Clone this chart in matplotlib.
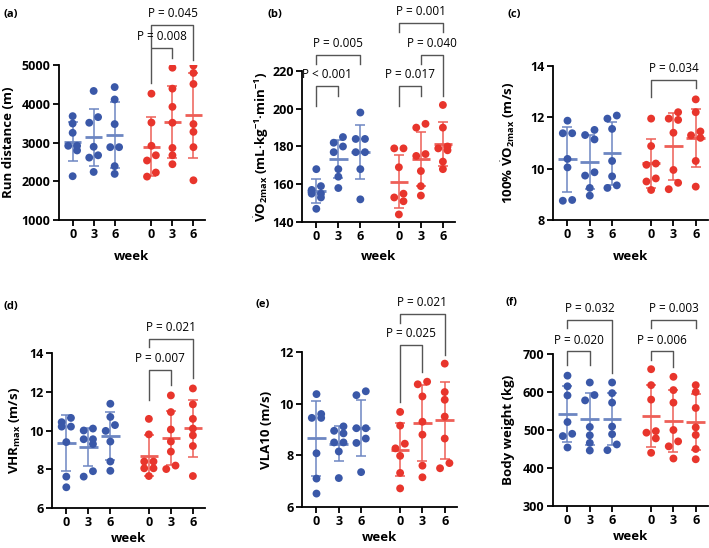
import numpy as np
import matplotlib.pyplot as plt

plt.rcParams['font.family'] = ['Open Sans', 'DejaVu Sans']
plt.rcParams['mathtext.fontset'] = 'custom'
plt.rcParams['mathtext.rm'] = 'Open Sans'
plt.rcParams['mathtext.bf'] = 'Open Sans:bold'
plt.rcParams['mathtext.it'] = 'Open Sans:italic'

week_labels = ['0', '3', '6', '0', '3', '6']

# values per group: control weeks 0/3/6 (blue), training weeks 0/3/6 (red)
run_distance = [
    [3680, 3490, 3250, 2915, 2915, 2795, 2130],
    [4330, 3655, 3510, 2890, 2670, 2610, 2240],
    [4430, 4110, 3475, 2880, 2880, 2390, 2190],
    [4260, 3515, 2915, 2670, 2535, 2225, 2120],
    [4930, 4390, 3920, 3510, 2860, 2670, 2440],
    [4985, 4795, 4510, 3475, 3275, 2880, 2025],
]
vo2max = [
    [168, 159, 157, 155, 155, 153, 147],
    [185, 182, 180, 177, 168, 164, 158],
    [198, 184, 184, 177, 177, 168, 152],
    [179, 179, 169, 155, 153, 151, 144],
    [192, 190, 176, 175, 167, 159, 154],
    [202, 190, 180, 179, 178, 172, 168],
]
speed_vo2max = [
    [11.87, 11.38, 11.38, 10.38, 10.05, 8.75, 8.78],
    [11.51, 11.14, 11.31, 9.73, 9.86, 9.25, 8.95],
    [12.07, 11.95, 11.55, 10.3, 9.7, 9.35, 9.25],
    [11.95, 10.88, 10.2, 10.15, 9.62, 9.5, 9.17],
    [12.2, 11.9, 11.95, 11.4, 9.95, 9.45, 9.2],
    [12.7, 12.2, 11.45, 11.3, 11.2, 10.3, 9.3],
]
vhr_max = [
    [10.65, 10.43, 10.2, 10.2, 9.4, 7.62, 7.07],
    [10.1, 10.0, 9.55, 9.55, 9.3, 7.9, 7.62],
    [11.38, 10.7, 10.28, 9.98, 9.43, 8.4, 7.92],
    [10.6, 9.8, 8.4, 8.4, 8.05, 8.05, 7.65],
    [11.81, 10.95, 10.05, 9.43, 8.91, 8.19, 8.01],
    [12.17, 11.35, 10.6, 10.1, 9.75, 9.2, 7.65],
]
vla10 = [
    [10.37, 9.6, 9.45, 9.45, 8.08, 7.1, 6.52],
    [9.12, 8.95, 8.85, 8.5, 8.5, 8.15, 7.12],
    [10.48, 10.33, 9.05, 9.05, 8.65, 8.48, 7.35],
    [9.68, 9.15, 8.45, 8.27, 7.98, 7.32, 6.72],
    [10.85, 10.75, 10.28, 9.3, 8.8, 7.6, 7.15],
    [11.55, 10.45, 10.15, 9.5, 8.65, 7.7, 7.5],
]
body_weight = [
    [643, 615, 591, 521, 490, 484, 454],
    [625, 592, 578, 508, 486, 466, 446],
    [625, 597, 572, 509, 489, 462, 447],
    [660, 618, 580, 497, 493, 478, 440],
    [640, 605, 572, 500, 470, 457, 425],
    [618, 600, 558, 507, 487, 450, 423],
]

x_pos = np.array([0, 1, 2, 3.75, 4.75, 5.75])
dot_colors = ['#3a58a8'] * 3 + ['#e8352c'] * 3
bar_colors = ['#6d86c2'] * 3 + ['#ee5f57'] * 3

W, H = 709, 548

# (letter, data, ylabel, yticks, rect px (left, top, w, h), ylabel x, week y px, brackets)
# bracket: (group i, group j, top, left end, right end, text)
panels = [
    ('(a)', run_distance, 'Run distance (m)', [1000, 2000, 3000, 4000, 5000],
     (59, 65, 146, 155), -0.30, 30,
     [(3, 4, 5440, 4535, 5180, 'P = 0.008'),
      (3, 5, 6030, 5465, 5130, 'P = 0.045')]),
    ('(b)', vo2max, r'$\dot{\mathbf{V}}\mathbf{O}_{\mathbf{2max}}$ (mL·kg$^{\mathbf{-1}}$·min$^{\mathbf{-1}}$)',
     [140, 160, 180, 200, 220], (302, 71, 153, 151), -0.20, 28,
     [(0, 1, 211.9, 201.5, 206.5, 'P < 0.001'),
      (0, 2, 228.7, 223.9, 223.9, 'P = 0.005'),
      (3, 4, 211.9, 201.5, 206.5, 'P = 0.017'),
      (4, 5, 228.7, 223.9, 206.5, 'P = 0.040'),
      (3, 5, 245.4, 240.7, 240.7, 'P = 0.001')]),
    ('(c)', speed_vo2max, r'100% $\dot{\mathbf{V}}\mathbf{O}_{\mathbf{2max}}$ (m/s)', [8, 10, 12, 14],
     (553, 66, 155, 154), -0.23, 30,
     [(3, 5, 13.45, 12.8, 13.13, 'P = 0.034')]),
    ('(d)', vhr_max, r'VHR$_{\mathbf{max}}$ (m/s)', [6, 8, 10, 12, 14],
     (52, 353, 153, 155), -0.19, 24,
     [(3, 4, 13.13, 11.58, 12.36, 'P = 0.007'),
      (3, 5, 14.74, 14.31, 12.7, 'P = 0.021')]),
    ('(e)', vla10, 'VLA10 (m/s)', [6, 8, 10, 12],
     (302, 352, 155, 155), -0.19, 24,
     [(3, 4, 12.26, 10.07, 11.23, 'P = 0.025'),
      (3, 5, 13.48, 13.12, 11.87, 'P = 0.021')]),
    ('(f)', body_weight, 'Body weight (kg)', [300, 400, 500, 600, 700],
     (553, 354, 155, 152), -0.245, 24,
     [(0, 1, 706.9, 671.7, 671.7, 'P = 0.020'),
      (0, 2, 790.6, 768.7, 649.8, 'P = 0.032'),
      (3, 4, 706.9, 685, 667, 'P = 0.006'),
      (3, 5, 790.6, 768.7, 768.7, 'P = 0.003')]),
]
letter_pos = [(4, 15), (267, 15), (507, 15), (3, 307), (255, 305), (505, 303)]


def swarm(vals, px_per_unit, diam=6.5, step=0.21):
    vals = np.asarray(vals, dtype=float)
    order = np.argsort(vals)[::-1]
    offs = np.zeros(len(vals))
    clusters, cur = [], [order[0]]
    for a, b in zip(order[:-1], order[1:]):
        if abs(vals[a] - vals[b]) * px_per_unit < diam:
            cur.append(b)
        else:
            clusters.append(cur)
            cur = [b]
    clusters.append(cur)
    for c in clusters:
        if len(c) > 1:
            for k, idx in enumerate(c):
                offs[idx] = step if k % 2 == 0 else -step
    return offs


fig = plt.figure(figsize=(W / 100, H / 100), dpi=100)

for (letter, data, ylab, yticks, rect, ylx, wk, brackets), lp in zip(panels, letter_pos):
    l, t, w, h = rect
    ax = fig.add_axes([l / W, 1 - (t + h) / H, w / W, h / H])
    ymin, ymax = yticks[0], yticks[-1]
    ppu = h / (ymax - ymin)

    for i, vals in enumerate(data):
        vals = np.array(vals, dtype=float)
        m, sd = vals.mean(), vals.std(ddof=1)
        ax.errorbar(x_pos[i], m, yerr=sd, fmt='none', ecolor=bar_colors[i],
                    elinewidth=1.1, capsize=3.5, capthick=1.1, zorder=2)
        ax.hlines(m, x_pos[i] - 0.42, x_pos[i] + 0.42, color=bar_colors[i], lw=2, zorder=2)
        ax.scatter(x_pos[i] + swarm(vals, ppu), vals, s=32, color=dot_colors[i],
                   edgecolors='none', zorder=3)

    for i, j, top, yl, yr, txt in brackets:
        ax.plot([x_pos[i], x_pos[i], x_pos[j], x_pos[j]], [yl, top, top, yr],
                color='#555555', lw=1, clip_on=False)
        ax.annotate(txt, ((x_pos[i] + x_pos[j]) / 2, top), xytext=(0, 3.5),
                    textcoords='offset points', ha='center', va='bottom',
                    fontsize=8.5, annotation_clip=False)

    ax.set_xlim(-0.65, 6.3)
    ax.set_ylim(ymin, ymax)
    ax.set_yticks(yticks)
    ax.set_xticks(x_pos)
    ax.set_xticklabels(week_labels)
    ax.spines['top'].set_visible(False)
    ax.spines['right'].set_visible(False)
    ax.spines['left'].set_linewidth(1.3)
    ax.spines['bottom'].set_linewidth(1.3)
    ax.tick_params(length=4, width=1.3, labelsize=9, pad=2)
    for lab in ax.get_xticklabels() + ax.get_yticklabels():
        lab.set_fontweight('bold')
    ax.set_ylabel(ylab, fontsize=9.5, fontweight='bold')
    ax.yaxis.set_label_coords(ylx, 0.5)
    ax.set_xlabel('week', fontsize=9.5, fontweight='bold')
    ax.xaxis.set_label_coords(0.5, -wk / h)

    fig.text(lp[0] / W, 1 - lp[1] / H, letter, fontsize=8, fontweight='bold', va='center')

fig.savefig('out.png', dpi=100)
